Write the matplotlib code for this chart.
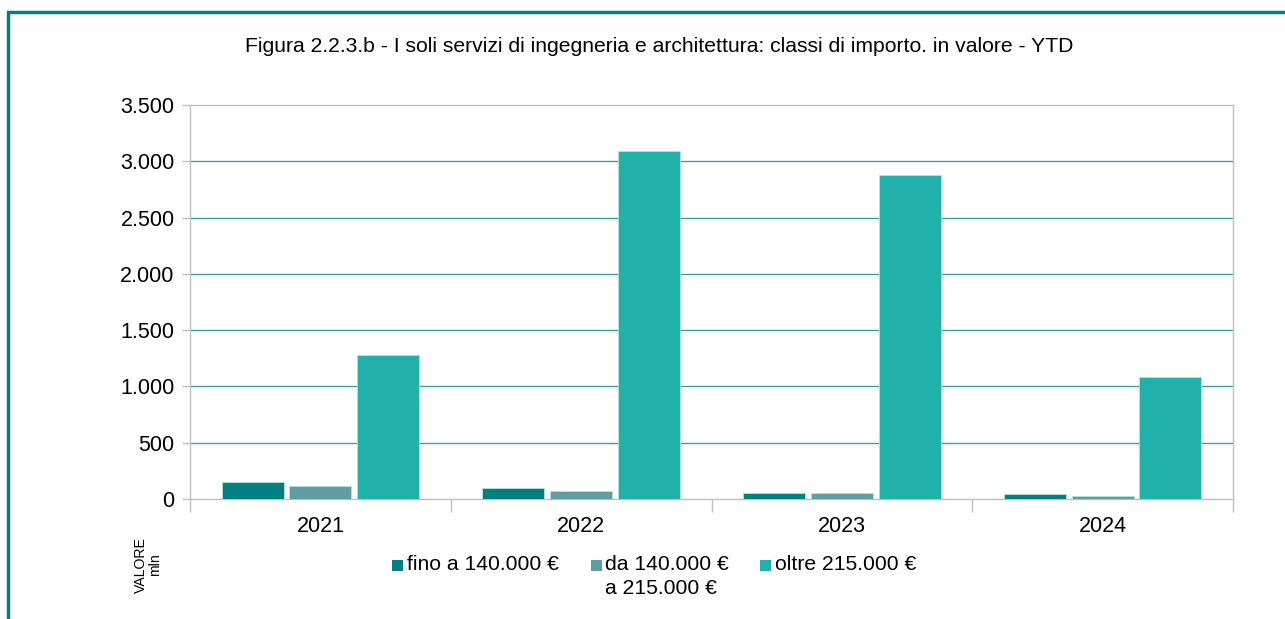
import matplotlib
matplotlib.use("Agg")
import matplotlib.pyplot as plt
from matplotlib.patches import Rectangle
import numpy as np

plt.rcParams['font.family'] = ['Liberation Sans', 'DejaVu Sans']

years = ["2021", "2022", "2023", "2024"]
series_names = ["fino a 140.000 €", "da 140.000 €\na 215.000 €", "oltre 215.000 €"]
fino = [148, 95, 53, 42]
da = [115, 74, 56, 27]
oltre = [1279, 3090, 2877, 1086]
yticks = [0, 500, 1000, 1500, 2000, 2500, 3000, 3500]
colors = ["#008080", "#5F9EA0", "#20B2AA"]

W, H = 1285, 619
fig = plt.figure(figsize=(W/100, H/100), dpi=100)
ax = fig.add_axes([190/W, 1-499/H, (1233-190)/W, (499-105)/H])

x = np.arange(len(years))
w = 0.2375
step = 0.26
for i, (vals, c, name) in enumerate(zip([fino, da, oltre], colors, series_names)):
    ax.bar(x + (i-1)*step, vals, width=w, color=c, edgecolor="#b8e0dc",
           linewidth=0.6, label=name, zorder=3)

ax.set_xlim(-0.5, 3.5)
ax.set_ylim(0, 3500)
ax.set_yticks(yticks)
ax.set_yticklabels([f"{v:,}".replace(",", ".") for v in yticks])
ax.set_xticks(x)
ax.set_xticklabels(years)
ax.set_xticks(np.arange(-0.5, 4, 1), minor=True)
ax.tick_params(axis='x', which='major', length=0, pad=12, labelsize=15.5)
ax.tick_params(axis='x', which='minor', length=9, color="#bfbfbf", width=1)
ax.tick_params(axis='y', length=6, color="#bfbfbf", width=1, labelsize=15.5, pad=5)
for s in ax.spines.values():
    s.set_color("#bfbfbf")
    s.set_linewidth(1)
for v in yticks[1:-1]:
    ax.axhline(v, color="#3f9f99", linewidth=1, zorder=1)

fig.text(659/W, 1-46/H, "Figura 2.2.3.b - I soli servizi di ingegneria e architettura: classi di importo. in valore - YTD",
         ha="center", va="center", fontsize=15.2)

fig.text(148/W, 1-565/H, "VALORE\nmln", rotation=90, ha="center", va="center",
         fontsize=10.2, multialignment="center", linespacing=0.95)

# legend (manual layout, matching reference)
handles_x = [392, 591, 760]
text_x = [407, 605, 775]
for hx, tx, c, name in zip(handles_x, text_x, colors, series_names):
    fig.patches.append(Rectangle((hx/W, 1-571/H), 11/W, 11/H, transform=fig.transFigure,
                                 facecolor=c, edgecolor="none"))
    fig.text(tx/W, 1-555/H, name, ha="left", va="top", fontsize=15.2,
             multialignment="left", linespacing=1.3)

fig.patches.append(Rectangle((8/W, -0.2), 1.2, 1-12/H+0.2, transform=fig.transFigure,
                             fill=False, edgecolor="#008080", linewidth=2.5))

fig.savefig("out.png", dpi=100)
